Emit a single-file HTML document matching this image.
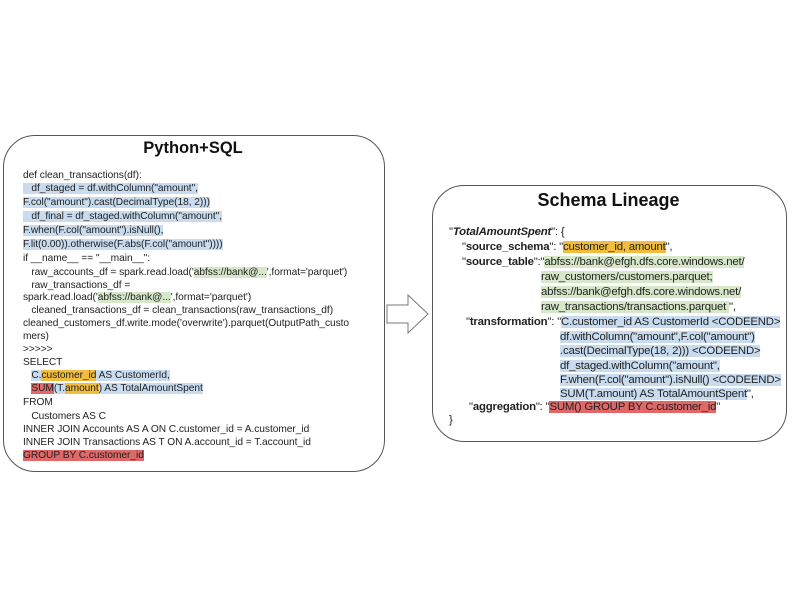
<!DOCTYPE html>
<html><head><meta charset="utf-8"><style>
body{margin:0;width:800px;height:600px;background:#fff;position:relative;overflow:hidden;font-family:"Liberation Sans",sans-serif;color:#222}
.box{position:absolute;border:1.3px solid #555;border-radius:32px;background:#fff}
.t{position:absolute;font-weight:bold;font-size:18px;color:#111;text-align:center}
.l{position:absolute;white-space:pre;font-size:10.2px;letter-spacing:-0.05px;line-height:12px}
.r{position:absolute;white-space:pre;font-size:11.4px;letter-spacing:-0.2px;line-height:13px}
.b{background:#c9dcef}.g{background:#d6e8c9}.o{background:#f2bd3c}.d{background:#e06868}
b{font-weight:bold}
</style></head><body>
<div class="box" style="left:3px;top:135px;width:380px;height:335px"></div>
<div class="t" style="left:3px;top:139px;width:380px;font-size:16.5px">Python+SQL</div>
<div class="l" style="left:23px;top:170px">def clean_transactions(df):</div>
<div class="l" style="left:23px;top:183px"><span class="b">   df_staged = df.withColumn("amount",</span></div>
<div class="l" style="left:23px;top:197px"><span class="b">F.col("amount").cast(DecimalType(18, 2)))</span></div>
<div class="l" style="left:23px;top:211px"><span class="b">   df_final = df_staged.withColumn("amount",</span></div>
<div class="l" style="left:23px;top:225px"><span class="b">F.when(F.col("amount").isNull(),</span></div>
<div class="l" style="left:23px;top:239px"><span class="b">F.lit(0.00)).otherwise(F.abs(F.col("amount"))))</span></div>
<div class="l" style="left:23px;top:253px">if __name__ == "__main__":</div>
<div class="l" style="left:23px;top:267px">   raw_accounts_df = spark.read.load('<span class="g">abfss://bank@...</span>',format='parquet')</div>
<div class="l" style="left:23px;top:280px">   raw_transactions_df =</div>
<div class="l" style="left:23px;top:292px">spark.read.load('<span class="g">abfss://bank@...</span>',format='parquet')</div>
<div class="l" style="left:23px;top:305px">   cleaned_transactions_df = clean_transactions(raw_transactions_df)</div>
<div class="l" style="left:23px;top:318px">cleaned_customers_df.write.mode('overwrite').parquet(OutputPath_custo</div>
<div class="l" style="left:23px;top:331px">mers)</div>
<div class="l" style="left:23px;top:344px">&gt;&gt;&gt;&gt;&gt;</div>
<div class="l" style="left:23px;top:357px">SELECT</div>
<div class="l" style="left:23px;top:370px">   <span class="b">C.</span><span class="o">customer_id</span><span class="b"> AS CustomerId,</span></div>
<div class="l" style="left:23px;top:383px">   <span class="d">SUM</span><span class="b">(T.</span><span class="o">amount</span><span class="b">) AS TotalAmountSpent</span></div>
<div class="l" style="left:23px;top:397px">FROM</div>
<div class="l" style="left:23px;top:411px">   Customers AS C</div>
<div class="l" style="left:23px;top:424px">INNER JOIN Accounts AS A ON C.customer_id = A.customer_id</div>
<div class="l" style="left:23px;top:437px">INNER JOIN Transactions AS T ON A.account_id = T.account_id</div>
<div class="l" style="left:23px;top:450px"><span class="d">GROUP BY C.customer_id</span></div>

<svg style="position:absolute;left:0;top:0" width="800" height="600"><polygon points="387,305 408,305 408,295 428,314 408,333 408,323 387,323" fill="#fff" stroke="#777" stroke-width="1"/></svg>

<div class="box" style="left:432px;top:185px;width:353px;height:255px"></div>
<div class="t" style="left:432px;top:190px;width:353px">Schema Lineage</div>
<div class="r" style="left:449px;top:226px">"<b><i>TotalAmountSpent</i></b>": {</div>
<div class="r" style="left:462px;top:241px">"<b>source_schema</b>": "<span class="o">customer_id, amount</span>",</div>
<div class="r" style="left:462px;top:256px">"<b>source_table</b>":"<span class="g">abfss://bank@efgh.dfs.core.windows.net/</span></div>
<div class="r" style="left:541px;top:271px"><span class="g">raw_customers/customers.parquet;</span></div>
<div class="r" style="left:541px;top:286px"><span class="g">abfss://bank@efgh.dfs.core.windows.net/</span></div>
<div class="r" style="left:541px;top:301px"><span class="g">raw_transactions/transactions.parquet </span>",</div>
<div class="r" style="left:466px;top:316px">"<b>transformation</b>": "<span class="b">C.customer_id AS CustomerId &lt;CODEEND&gt;</span></div>
<div class="r" style="left:560px;top:331px"><span class="b">df.withColumn("amount",F.col("amount")</span></div>
<div class="r" style="left:560px;top:345px"><span class="b">.cast(DecimalType(18, 2))) &lt;CODEEND&gt;</span></div>
<div class="r" style="left:560px;top:360px"><span class="b">df_staged.withColumn("amount",</span></div>
<div class="r" style="left:560px;top:374px"><span class="b">F.when(F.col("amount").isNull() &lt;CODEEND&gt;</span></div>
<div class="r" style="left:560px;top:388px"><span class="b">SUM(T.amount) AS TotalAmountSpent</span>",</div>
<div class="r" style="left:469px;top:401px">"<b>aggregation</b>": "<span class="d">SUM() GROUP BY C.customer_id</span>"</div>
<div class="r" style="left:449px;top:414px">}</div>
</body></html>
